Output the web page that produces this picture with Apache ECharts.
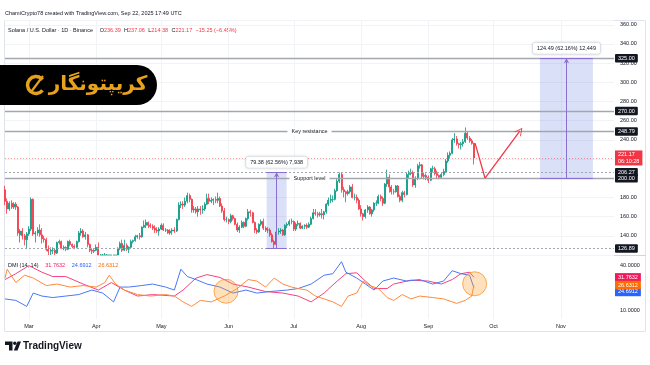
<!DOCTYPE html>
<html><head><meta charset="utf-8">
<script src="https://cdn.jsdelivr.net/npm/echarts@6/dist/echarts.min.js"></script>
<style>html,body{margin:0;padding:0;background:#fff}#c{width:650px;height:365px}</style>
</head><body><div id="c"></div>
<script>
// ---------- DATA ----------
const firstDay = -11; // day index relative to Mar 1 (Feb 18)
// [open, close, low, high]
const ohlc = [
[188,176,172,192],[176,168,163,179],[168,174,166,176],[174,170,168,177],[170,173,168,175],[173,170,167,175],
[170,143,140,171],[141,145,133,147],[145,140,136,148],[140,136,130,142],[136,142,126,144],
[142,147,140,150],[147,178,145,180],[178,142,140,179],[142,143,133,145],[143,146,140,149],[146,141,139,152],
[141,137,132,148],[137,136,133,140],[136,126,124,138],[126,124,112,130],[124,125,117,128],[125,125,121,128],
[125,122,119,127],[122,133,121,134],[133,134,131,136],[134,127,126,135],[127,128,125,130],[128,126,124,129],
[126,134,125,135],[134,131,129,136],[131,129,127,132],[129,128,126,131],[128,134,127,135],[134,143,133,145],
[143,145,140,148],[145,139,138,147],[139,141,136,144],[141,131,128,142],[131,125,123,132],[125,124,121,127],
[124,125,122,126],
[125,128,124,131],[128,117,115,133],[117,116,113,121],[116,120,112,121],[120,120,117,122],[120,106,105,121],
[106,106,95,112],[106,105,104,114],[105,118,102,120],[118,114,110,120],[114,127,113,128],[127,132,125,134],
[132,125,123,136],[125,130,124,136],[130,126,124,132],[126,128,122,129],[128,134,127,136],[134,135,132,136],
[135,139,134,141],[139,140,137,141],[140,139,136,143],[139,149,138,150],[149,151,148,156],[151,154,148,157],
[154,151,148,155],[151,150,148,153],[150,148,146,152],[148,146,143,151],[146,145,143,149],[145,147,140,149],
[147,151,146,153],[151,146,145,153],[146,146,144,148],[146,143,142,147],[143,145,141,147],[145,146,141,148],
[146,145,143,149],[145,157,144,158],[157,172,156,175],[172,173,169,176],[173,172,168,176],[172,176,170,180],
[176,182,174,185],[182,178,175,184],[178,167,164,179],[167,168,164,171],[168,165,163,170],[165,168,160,171],
[168,167,162,171],[167,168,163,172],[168,173,166,175],[173,179,172,184],[179,176,173,184],[176,177,174,180],
[177,178,172,179],[178,177,174,181],[177,179,174,185],[179,171,170,181],[171,166,164,174],[166,157,155,169],
[157,157,154,160],
[157,155,152,158],[155,161,153,163],[161,158,156,162],[158,152,151,159],[152,146,144,154],[146,149,143,151],
[149,154,148,156],[154,150,148,155],[150,158,149,159],[158,165,156,168],[165,164,160,167],[164,154,153,165],
[154,146,143,155],[146,144,142,148],[144,152,143,153],[152,155,150,157],[155,148,146,158],[148,146,144,150],
[146,146,143,149],[146,141,139,148],[141,134,133,143],[134,131,126.89,136],[131,144,130,146],[144,145,141,148],
[145,146,142,148],[146,141,140,147],[141,151,140,152],[151,152,148,154],[152,155,150,157],[155,155,152,158],
[155,147,145,156],[147,152,145,154],[152,153,150,156],[153,148,147,154],[148,150,147,151],[150,151,147,152],
[151,149,147,153],[149,152,148,154],[152,158,151,160],[158,164,157,168],[164,163,161,168],[163,162,159,165],
[162,163,160,165],[163,162,158,168],[162,165,157,166],[165,173,163,174],[173,177,171,180],[177,178,174,183],
[178,178,175,182],[178,187,177,189],[187,197,186,200],[197,204,195,206],[204,188,185,206],[188,186,180,191],
[186,184,175,187],[184,186,182,188],[186,191,184,193],[191,180,179,194],[180,180,177,184],[180,177,174,183],
[177,168,167,179],
[168,163,160,172],[163,160,156,164],[160,167,158,168],[167,170,164,172],[170,163,162,171],[163,167,160,168],
[167,174,165,175],[174,174,171,177],[174,181,173,183],[181,179,176,183],[179,174,171,181],[174,194,173,195],
[194,201,191,209],[201,191,185,204],[191,186,183,193],[186,186,183,189],[186,192,185,193],[192,181,180,193],
[181,177,175,183],[177,185,175,187],[185,183,180,187],[183,204,182,206],[204,205,200,208],[205,206,203,210],
[206,193,191,208],[193,200,190,202],[200,213,198,215],[213,214,210,217],[214,202,200,215],[202,203,199,206],
[203,201,198,205],
[201,198,195,203],[198,210,197,211],[210,210,206,213],[210,205,203,212],[205,203,200,208],[203,201,199,204],
[201,204,200,206],[204,207,202,210],[207,218,206,220],[218,224,216,227],[224,226,221,228],[226,240,225,242],
[240,241,237,247],[241,236,234,244],[236,235,231,237],[235,236,230,238],[236,238,233,241],[238,247,237,253],
[247,242,240,249],[242,239,237,244],[239,236.39,235,241],[236.39,221.17,214.38,237.06]
];
// DMI (14,14): [day, value]
const adx = [[-11,30.3],[-6,34.2],[0,39.6],[6,35.2],[11,32.3],[17,32.3],[25,27.3],[32,23.3],[38,28.3],[44,23.3],[50,19.3],[57,20.3],[67,19.3],[71,23.3],[77,31.3],[82,33.6],[88,31.7],[94,27.3],[101,25.3],[109,22.3],[117,21.3],[124,19.3],[130,15.4],[136,21.3],[142,29.3],[146,34.2],[151,34.8],[155,29.3],[159,24.3],[165,24.3],[168,27.3],[176,29.9],[184,29.3],[190,27.3],[195,30.3],[199,34.2],[203,35.2],[205,31.7632]];
const plusDI = [[-11,17.4],[-6,16.4],[-1,12.4],[2,21.3],[6,19.3],[11,18.3],[17,19.3],[23,20.3],[29,23.3],[34,21.3],[39,15.4],[42,25.3],[46,25.3],[52,26.3],[57,27.3],[63,25.3],[67,23.3],[70,37.2],[73,32.3],[77,30.3],[82,27.3],[88,25.3],[94,21.3],[100,23.3],[105,21.3],[111,22.3],[119,23.3],[124,24.3],[130,27.3],[136,33.2],[140,34.2],[144,42.2],[146,35.2],[151,31.3],[155,27.3],[159,23.3],[163,29.3],[168,31.3],[174,29.3],[180,30.3],[186,27.3],[191,29.3],[195,36.2],[199,34.2],[203,33.2],[205,24.6912]];
const minusDI = [[-11,31.3],[-10,37.2],[-6,28.3],[-2,33.2],[2,31.3],[8,26.3],[13,27.3],[19,25.3],[25,26.3],[31,25.3],[35,28.3],[37,33.2],[40,27.3],[44,23.3],[50,20.3],[56,19.3],[63,20.3],[67,19.3],[71,15.4],[75,12.4],[79,16.4],[84,15.4],[90,19.3],[96,24.3],[101,30.3],[105,29.3],[109,25.3],[113,31.3],[117,27.3],[121,25.3],[124,24.3],[128,23.3],[132,19.3],[136,17.4],[140,15.4],[144,12.4],[147,19.3],[151,21.3],[154,29.3],[157,26.3],[161,24.3],[165,18.3],[168,16.4],[172,20.3],[176,17.4],[180,19.3],[186,18.3],[191,17.4],[197,14.4],[201,16.4],[204,19.3],[205,26.6312]];
const monthDays = [0,31,61,92,122,153,184,214,245];
const monthNames = ['Mar','Apr','May','Jun','Jul','Aug','Sep','Oct','Nov'];
const levelValues = [325,270,248.79,206.27,200,126.89];
const levelNotes = ['','','Key resistance','','Support level',''];
const lastPrice = 221.17, countdown = '06:10:28';
const measures = [
  {d0:109.5, d1:118.7, lo:126.89, hi:206.27, text:'79.38 (62.56%) 7,938'},
  {d0:235.4, d1:259.8, lo:200, hi:325, text:'124.49 (62.16%) 12,449'}
];
const arrowPath = [[205.5,236.7],[210.1,200.2],[226.2,249.3]];
const dmiMarks = [[90.8,22.5],[205.3,27.5]];
const headerText = 'ChamiCrypto78 created with TradingView.com, Sep 22, 2025 17:49 UTC';
const symbolText = 'Solana / U.S. Dollar · 1D · Binance';
const changeText = '−15.25 (−6.45%)';

// ---------- CHART ----------
const FONT = 'Liberation Sans, Arial, sans-serif';
const PMIN = 120, PMAX = 365;
const clampP = v => Math.max(PMIN, Math.min(PMAX, v)); // pane clipping, as in the source chart
const candleData = ohlc.map((r,i)=>[firstDay+i, clampP(r[0]), clampP(r[1]), clampP(r[2]), clampP(r[3])]);
const dashedSet = {206.27:true, 126.89:true};
const CLEAR = 'rgba(0,0,0,0)';
const lvlLines = [];
levelValues.forEach((v,i)=>{
  lvlLines.push({yAxis:v, lineStyle:{color:'#a3a6af', width: dashedSet[v]?1:1.4, type: dashedSet[v]?[2,2]:'solid'},
    label:{show:true, position:'end', distance:1, formatter:v.toFixed(2), backgroundColor:'#131722', color:'#fff',
      fontSize:5.5, fontFamily:FONT, padding:[1.5,3,1,3], borderRadius:1}});
  if (levelNotes[i]) lvlLines.push({yAxis:v, lineStyle:{color:CLEAR},
    label:{show:true, position:'middle', distance:0, verticalAlign:'middle', formatter:levelNotes[i], backgroundColor:'#fff', color:'#131722',
      fontSize:5.5, fontFamily:FONT, padding:[1,4]}});
});
lvlLines.push({yAxis:lastPrice, lineStyle:{color:'rgba(242,54,69,0.5)', width:1, type:[1,2]},
  label:{show:true, position:'end', distance:1, formatter:lastPrice.toFixed(2)+'\n'+countdown, backgroundColor:'#f23645',
    color:'#fff', fontSize:5.5, lineHeight:6.5, fontFamily:FONT, padding:[1,3,1,3]}});
const purple = '#8a6fd1';
measures.forEach(m=>{
  const mid = (m.d0+m.d1)/2;
  const ls = {color:purple, width:1, type:'solid'};
  lvlLines.push([{coord:[mid,m.lo], symbol:'none', lineStyle:ls, label:{show:false}},{coord:[mid,m.hi], symbol:'arrow', symbolSize:[4,5]}]);
  lvlLines.push([{coord:[m.d0,m.hi], symbol:'none', lineStyle:ls, label:{show:false}},{coord:[m.d1,m.hi], symbol:'none'}]);
  lvlLines.push([{coord:[m.d0,m.lo], symbol:'none', lineStyle:ls, label:{show:false}},{coord:[m.d1,m.lo], symbol:'none'}]);
});
for (let k=0;k<arrowPath.length-1;k++){
  const last = k===arrowPath.length-2;
  lvlLines.push([{coord:arrowPath[k], symbol:'none', lineStyle:{color:'#f23645', width:1.3, type:'solid'}, label:{show:false}},
    {coord:arrowPath[k+1], symbol: last?'path://M0,0 L6,10 L4.6,10 L0,2.4 L-4.6,10 L-6,10 Z':'none', symbolSize:[8,8]}]);
}

const dmiLabel = (v,color,off)=>({silent:true, symbol:'none', data:[{yAxis:v, lineStyle:{color:CLEAR},
  label:{show:true, position:'end', distance:1, formatter:v.toFixed(4), backgroundColor:color, color:'#fff',
    fontSize:5.5, fontFamily:FONT, padding:[1.5,3,1,3], offset:[0,off]}}]});

const option = {
  animation:false,
  grid:[{left:5, right:36, top:20, bottom:110},{left:5, right:36, top:256, bottom:46}],
  xAxis:[
    {type:'value', gridIndex:0, min:-11, max:269.5, axisLine:{show:false}, axisLabel:{show:false},
     axisTick:{show:false, customValues:monthDays}, splitLine:{show:true, lineStyle:{color:'#f1f3f7', width:1}}},
    {type:'value', gridIndex:1, min:-11, max:269.5, axisLine:{show:false},
     axisTick:{show:false, customValues:monthDays},
     axisLabel:{show:true, customValues:monthDays, formatter:v=>monthNames[monthDays.indexOf(v)]||'', color:'#131722',
       fontSize:5.5, fontFamily:FONT, margin:4},
     splitLine:{show:true, lineStyle:{color:'#f1f3f7', width:1}}}
  ],
  yAxis:[
    {type:'value', gridIndex:0, position:'right', min:PMIN, max:PMAX, interval:20, axisLine:{show:false}, axisTick:{show:false},
     axisLabel:{margin:6, color:'#131722', fontSize:5.5, fontFamily:FONT,
       formatter:v=> (v%20===0 && v>120 && v<=360) ? v.toFixed(2) : ''},
     splitLine:{show:true, lineStyle:{color:'#f1f3f7', width:1}}},
    {type:'value', gridIndex:1, position:'right', min:4, max:46, axisLine:{show:false}, axisTick:{show:false},
     axisLabel:{customValues:[10,40], margin:6, color:'#131722', fontSize:5.5, fontFamily:FONT, formatter:v=>v.toFixed(4)},
     splitLine:{show:false}}
  ],
  series:[
    {type:'candlestick', xAxisIndex:0, yAxisIndex:0, data:candleData, encode:{x:0, y:[1,2,3,4]}, barWidth:1.5, clip:true,
     itemStyle:{color:'#089981', color0:'#f23645', borderColor:'#089981', borderColor0:'#f23645', borderWidth:0.8},
     markArea:{silent:true, itemStyle:{color:'rgba(70,100,220,0.20)'},
       data: measures.map(m=>[{coord:[m.d0,m.hi]},{coord:[m.d1,m.lo]}])},
     markLine:{silent:true, symbol:'none', animation:false, data:lvlLines},
     markPoint:{silent:true, symbol:'rect', symbolSize:0,
       data: measures.map(m=>({coord:[(m.d0+m.d1)/2, m.hi], label:{show:true, formatter:m.text, offset:[0,-10],
         backgroundColor:'#fff', borderColor:'#e0e3eb', borderWidth:0.6, borderRadius:2, padding:[2.5,4],
         shadowBlur:3, shadowColor:'rgba(0,0,0,0.15)', color:'#131722', fontSize:5.5, fontFamily:FONT}}))}
    },
    {type:'line', name:'ADX', xAxisIndex:1, yAxisIndex:1, data:adx, symbol:'none', lineStyle:{color:'#f5407f', width:1}, z:3,
     markLine: dmiLabel(adx[adx.length-1][1], '#f0195e', 0)},
    {type:'line', name:'+DI', xAxisIndex:1, yAxisIndex:1, data:plusDI, symbol:'none', lineStyle:{color:'#4a78f5', width:1}, z:3,
     markLine: dmiLabel(plusDI[plusDI.length-1][1], '#2962ff', 4)},
    {type:'line', name:'-DI', xAxisIndex:1, yAxisIndex:1, data:minusDI, symbol:'none', lineStyle:{color:'#ff8a3d', width:1}, z:3,
     markLine: dmiLabel(minusDI[minusDI.length-1][1], '#ff6d00', 0)},
    {type:'scatter', xAxisIndex:1, yAxisIndex:1, data:dmiMarks, symbolSize:24, z:4,
     itemStyle:{color:'rgba(255,160,40,0.38)', borderColor:'rgba(245,124,0,0.75)', borderWidth:1}}
  ],
  graphic:[
    {type:'text', left:5, top:10, style:{text:headerText, fill:'#131722', font:'5.5px '+FONT}},
    {type:'rect', shape:{x:4.5,y:20.5,width:641,height:311}, style:{fill:null, stroke:'#e0e3eb', lineWidth:1}, silent:true},
    {type:'line', shape:{x1:4.5,y1:255.5,x2:645.5,y2:255.5}, style:{stroke:'#d1d4dc', lineWidth:1}},
    {type:'text', x:8, y:24, style:{
      text:'{a|'+symbolText+'}  {a|O}{r|'+ohlc[ohlc.length-1][0].toFixed(2)+'} {a|H}{r|'+ohlc[ohlc.length-1][3].toFixed(2)+'} {a|L}{r|'+ohlc[ohlc.length-1][2].toFixed(2)+'} {a|C}{r|'+ohlc[ohlc.length-1][1].toFixed(2)+'} {r|'+changeText+'}',
      rich:{a:{fill:'#131722', fontSize:5.5, fontFamily:FONT}, r:{fill:'#f23645', fontSize:5.5, fontFamily:FONT}}}},
    {type:'text', x:8, y:259, style:{
      text:'{a|DMI (14, 14)}  {p|'+adx[adx.length-1][1].toFixed(4)+'}  {b|'+plusDI[plusDI.length-1][1].toFixed(4)+'}  {o|'+minusDI[minusDI.length-1][1].toFixed(4)+'}',
      rich:{a:{fill:'#131722', fontSize:5.5, fontFamily:FONT}, p:{fill:'#f0195e', fontSize:5.5, fontFamily:FONT},
            b:{fill:'#2962ff', fontSize:5.5, fontFamily:FONT}, o:{fill:'#ff6d00', fontSize:5.5, fontFamily:FONT}}}},
    // logo badge
    {type:'rect', z:100, shape:{x:0,y:65,width:157,height:40,r:[0,20,20,0]}, style:{fill:'#000'}},
    {type:'arc', z:101, shape:{cx:36,cy:85,r:8.5,startAngle:0.7,endAngle:5.6}, style:{stroke:'#e6a11a', lineWidth:3.5, fill:null}},
    {type:'line', z:101, shape:{x1:31,y1:92,x2:43,y2:76}, style:{stroke:'#e6a11a', lineWidth:2.2}},
    {type:'text', z:101, x:98, y:85, style:{text:'کریپتونگار', fill:'#e8a21b', font:'bold 20px DejaVu Sans', align:'center', verticalAlign:'middle'}},
    // TradingView footer
    {type:'polygon', shape:{points:[[5,341.5],[12.5,341.5],[12.5,350.5],[9,350.5],[9,345],[5,345]]}, style:{fill:'#131722'}},
    {type:'circle', shape:{cx:14.8,cy:343.2,r:1.7}, style:{fill:'#131722'}},
    {type:'polygon', shape:{points:[[17.5,341.5],[21,341.5],[17.5,350.5],[13.8,350.5]]}, style:{fill:'#131722'}},
    {type:'text', x:23, y:346, style:{text:'TradingView', fill:'#131722', font:'bold 10px '+FONT, verticalAlign:'middle'}}
  ]
};
const chart = echarts.init(document.getElementById('c'), null, {renderer:'canvas'});
chart.setOption(option);
</script></body></html>
